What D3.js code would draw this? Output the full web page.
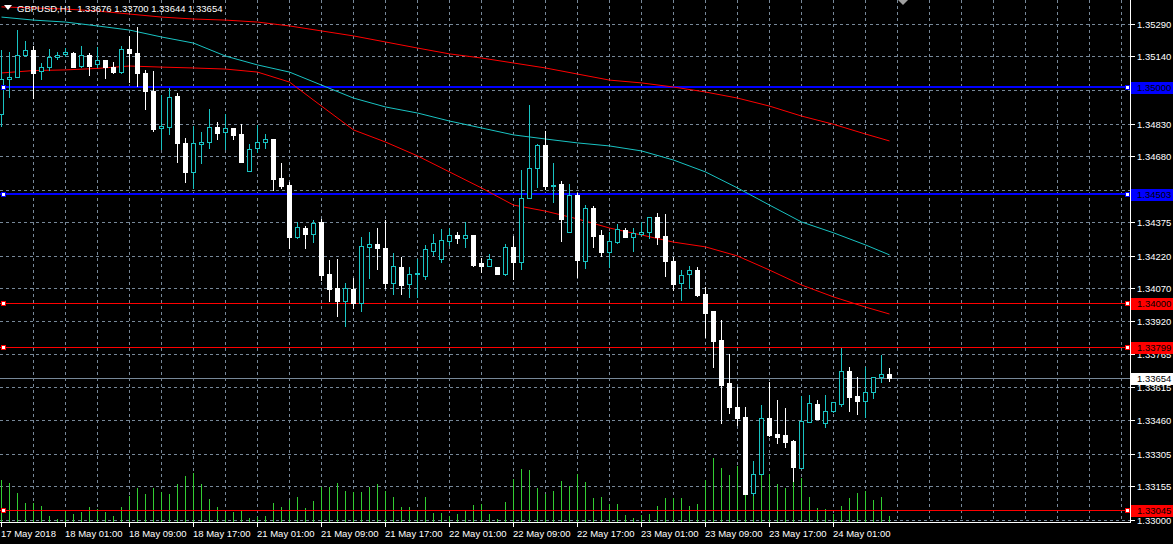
<!DOCTYPE html>
<html><head><meta charset="utf-8">
<script src="https://cdn.jsdelivr.net/npm/d3@7"></script>
<style>html,body{margin:0;padding:0;background:#000;overflow:hidden}svg{display:block}</style>
</head><body>
<svg id="chart" width="1173" height="544"></svg>
<script>
const symbolTitle = "GBPUSD,H1  1.33676 1.33700 1.33644 1.33654";
const open = [
1.34875,1.35035,1.35047,1.35147,1.35170,1.35074,1.35090,1.35136,1.35150,1.35156,
1.35098,1.35147,1.35104,1.35124,1.35093,1.35070,1.35175,1.35155,1.35062,1.34982,
1.34808,1.34816,1.34958,1.34742,1.34608,1.34737,1.34744,1.34813,1.34790,1.34811,
1.34782,1.34611,1.34716,1.34744,1.34759,1.34578,1.34547,1.34308,1.34347,1.34319,
1.34374,1.34136,1.34070,1.34012,1.34067,1.34003,1.34262,1.34274,1.34257,1.34096,
1.34170,1.34088,1.34134,1.34128,1.34243,1.34204,1.34290,1.34316,1.34303,1.34316,
1.34188,1.34174,1.34167,1.34136,1.34259,1.34193,1.34485,1.34624,1.34731,1.34543,
1.34550,1.34328,1.34500,1.34197,1.34442,1.34316,1.34239,1.34285,1.34339,1.34308,
1.34320,1.34331,1.34401,1.34311,1.34196,1.34093,1.34134,1.34154,1.34043,1.33965,
1.33831,1.33634,1.33523,1.33474,1.33123,1.33211,1.33470,1.33397,1.33392,1.33365,
1.33241,1.33451,1.33535,1.33446,1.33501,1.33534,1.33689,1.33572,1.33551,1.33590,
1.33662,1.33676];
const high = [
1.35170,1.35162,1.35262,1.35212,1.35188,1.35111,1.35176,1.35161,1.35181,1.35161,
1.35188,1.35155,1.35182,1.35124,1.35116,1.35188,1.35235,1.35278,1.35078,1.35073,
1.34962,1.34993,1.34970,1.34765,1.34819,1.34791,1.34898,1.34836,1.34874,1.34811,
1.34828,1.34735,1.34824,1.34781,1.34759,1.34647,1.34562,1.34377,1.34357,1.34385,
1.34390,1.34200,1.34205,1.34093,1.34119,1.34308,1.34328,1.34350,1.34385,1.34231,
1.34216,1.34170,1.34204,1.34270,1.34320,1.34343,1.34347,1.34328,1.34374,1.34316,
1.34208,1.34227,1.34167,1.34274,1.34312,1.34616,1.34916,1.34736,1.34796,1.34650,
1.34565,1.34551,1.34511,1.34454,1.34450,1.34339,1.34331,1.34367,1.34350,1.34347,
1.34374,1.34401,1.34419,1.34413,1.34213,1.34154,1.34173,1.34167,1.34074,1.33965,
1.33923,1.33766,1.33612,1.33520,1.33272,1.33531,1.33639,1.33554,1.33518,1.33369,
1.33572,1.33577,1.33554,1.33577,1.33543,1.33795,1.33705,1.33659,1.33708,1.33662,
1.33762,1.33700];
const low = [
1.34819,1.34954,1.35045,1.35142,1.34948,1.35036,1.35078,1.35127,1.35144,1.35093,
1.35093,1.35054,1.35090,1.35042,1.35062,1.35062,1.35024,1.35005,1.34898,1.34796,
1.34713,1.34782,1.34654,1.34562,1.34531,1.34650,1.34719,1.34759,1.34713,1.34758,
1.34654,1.34611,1.34698,1.34719,1.34524,1.34531,1.34254,1.34303,1.34257,1.34285,
1.34108,1.34011,1.33943,1.33897,1.33977,1.33966,1.34119,1.34159,1.34070,1.34043,
1.34043,1.34031,1.34031,1.34113,1.34224,1.34193,1.34270,1.34280,1.34262,1.34174,
1.34146,1.34174,1.34134,1.34131,1.34113,1.34159,1.34485,1.34539,1.34528,1.34470,
1.34290,1.34328,1.34120,1.34165,1.34262,1.34219,1.34170,1.34278,1.34308,1.34242,
1.34316,1.34301,1.34273,1.34126,1.34062,1.34015,1.34070,1.34034,1.33845,1.33708,
1.33449,1.33493,1.33439,1.33120,1.33115,1.33211,1.33388,1.33354,1.33338,1.33179,
1.33241,1.33451,1.33466,1.33431,1.33497,1.33528,1.33505,1.33489,1.33477,1.33562,
1.33639,1.33644];
const close = [
1.35036,1.35047,1.35147,1.35170,1.35062,1.35090,1.35136,1.35147,1.35159,1.35093,
1.35147,1.35098,1.35122,1.35093,1.35070,1.35173,1.35155,1.35062,1.34982,1.34805,
1.34820,1.34952,1.34742,1.34608,1.34742,1.34744,1.34813,1.34788,1.34808,1.34778,
1.34654,1.34712,1.34744,1.34758,1.34574,1.34543,1.34308,1.34351,1.34319,1.34370,
1.34131,1.34067,1.34011,1.34070,1.34001,1.34265,1.34274,1.34257,1.34096,1.34173,
1.34085,1.34136,1.34139,1.34251,1.34278,1.34293,1.34316,1.34303,1.34316,1.34177,
1.34174,1.34204,1.34134,1.34259,1.34193,1.34485,1.34624,1.34731,1.34543,1.34547,
1.34390,1.34500,1.34200,1.34439,1.34312,1.34239,1.34288,1.34342,1.34308,1.34323,
1.34331,1.34401,1.34308,1.34197,1.34090,1.34131,1.34154,1.34039,1.33957,1.33826,
1.33623,1.33523,1.33472,1.33120,1.33212,1.33470,1.33392,1.33385,1.33362,1.33246,
1.33457,1.33539,1.33466,1.33501,1.33543,1.33689,1.33569,1.33551,1.33590,1.33662,
1.33673,1.33654];
const volume = [
2050,1900,1400,900,900,750,250,100,550,350,
450,700,600,450,250,700,1250,1650,1350,1650,
1450,1350,1850,2250,2400,1850,1100,700,450,450,
550,150,200,250,900,700,1050,1200,650,1000,
1700,1700,1900,1500,1450,1450,1700,1850,1500,1200,
700,700,550,1200,400,400,250,350,550,800,
850,350,100,950,2100,2600,2550,1650,1350,1500,
2000,1750,2350,1950,1150,1200,850,850,300,150,
300,350,750,1150,1150,1150,750,850,2050,3150,
2650,2300,2750,2150,2950,2600,2350,1850,1650,2000,
2150,1200,650,600,350,750,1150,1400,1500,1050,
1200,250];
const maIndex = [0,4,8,12,16,20,24,28,32,36,40,44,48,52,56,60,64,68,72,76,80,84,88,92,96,100,104,108,111];
const maCyan = [1.35322,1.35308,1.35299,1.35281,1.35262,1.35230,1.35202,1.35142,1.35101,1.35068,1.35008,1.34948,1.34907,1.34879,1.34842,1.34810,1.34778,1.34759,1.34741,1.34727,1.34704,1.34662,1.34607,1.34533,1.34454,1.34376,1.34326,1.34270,1.34224];
const maSlowRed = [1.35369,1.35364,1.35359,1.35350,1.35336,1.35322,1.35313,1.35308,1.35299,1.35281,1.35258,1.35235,1.35207,1.35179,1.35152,1.35133,1.35110,1.35087,1.35059,1.35031,1.35018,1.34999,1.34976,1.34948,1.34911,1.34865,1.34827,1.34782,1.34750];
const maFastRed = [1.35064,1.35075,1.35078,1.35085,1.35096,1.35091,1.35087,1.35082,1.35068,1.35022,1.34911,1.34801,1.34745,1.34681,1.34607,1.34533,1.34454,1.34426,1.34390,1.34348,1.34316,1.34283,1.34261,1.34219,1.34154,1.34085,1.34030,1.33983,1.33951];
const gridPrices = ["1.35290","1.35140","1.34985","1.34830","1.34680","1.34525","1.34375","1.34220","1.34070","1.33920","1.33765","1.33615","1.33460","1.33305","1.33155","1.33000"];
const priceLabels = ["1.35290","1.35140","1.34830","1.34680","1.34375","1.34220","1.34070","1.33920","1.33765","1.33615","1.33460","1.33305","1.33155","1.33000"];
const timeTickIndex = [0,8,16,24,32,40,48,56,64,72,80,88,96,104];
const timeLabels = ["17 May 2018","18 May 01:00","18 May 09:00","18 May 17:00","21 May 01:00","21 May 09:00","21 May 17:00","22 May 01:00","22 May 09:00","22 May 17:00","23 May 01:00","23 May 09:00","23 May 17:00","24 May 01:00"];
const blueLevels = [1.35000, 1.34503];
const redLevels = [1.34000, 1.33799, 1.33045];
const bidPrice = 1.33654;

const W = 1173, H = 544, plotR = 1130, plotB = 522;
const FONT = "'Liberation Sans', Arial, sans-serif";
const BULL = "#19c3c3", BEAR = "#ffffff", GRID = "#778899", VOL = "#32cd32";

const svg = d3.select("#chart");
svg.append("rect").attr("width",W).attr("height",H).attr("fill","#000");
const x = d3.scaleLinear().domain([0,111]).range([1,889]);
const y = d3.scaleLinear().domain([1.33000,1.35290]).range([520,24]);
const v = d3.scaleLinear().domain([0,5000]).range([521,421]);

svg.append("clipPath").attr("id","clip").append("rect").attr("x",0).attr("y",0).attr("width",plotR).attr("height",plotB);
const plot = svg.append("g").attr("clip-path","url(#clip)");

// grid
const gridV = d3.range(4,144,4);
plot.append("g").selectAll("line").data(gridV).join("line")
  .attr("x1",d=>x(d)+0.5).attr("x2",d=>x(d)+0.5).attr("y1",0).attr("y2",plotB)
  .attr("stroke",GRID).attr("stroke-dasharray","3,3");
plot.append("g").selectAll("line").data(gridPrices).join("line")
  .attr("x1",0).attr("x2",plotR).attr("y1",d=>Math.round(y(+d))+0.5).attr("y2",d=>Math.round(y(+d))+0.5)
  .attr("stroke",GRID).attr("stroke-dasharray","3,3");

// volumes
const bars = d3.range(open.length).map(i=>({i,o:open[i],h:high[i],l:low[i],c:close[i],vol:volume[i]}));
plot.append("g").selectAll("line").data(bars).join("line")
  .attr("x1",d=>x(d.i)+0.5).attr("x2",d=>x(d.i)+0.5)
  .attr("y1",d=>Math.round(v(d.vol))).attr("y2",plotB)
  .attr("stroke",VOL);

// horizontal levels
function level(p,color,w){
  const yy = Math.round(y(p)) + (w===2?0:0.5);
  plot.append("line").attr("x1",0).attr("x2",plotR).attr("y1",yy).attr("y2",yy).attr("stroke",color).attr("stroke-width",w);
}
blueLevels.forEach(p=>level(p,"#0000ff",2));
redLevels.forEach(p=>level(p,"#ff0000",1));
level(bidPrice,GRID,1);

// moving averages
const maLine = arr => d3.line().x((d,k)=>x(maIndex[k])+0.5).y(d=>y(d))(arr);
plot.append("path").attr("d",maLine(maSlowRed)).attr("fill","none").attr("stroke","#ff0000");
plot.append("path").attr("d",maLine(maFastRed)).attr("fill","none").attr("stroke","#ff0000");
plot.append("path").attr("d",maLine(maCyan)).attr("fill","none").attr("stroke",BULL);

// candles
const cg = plot.append("g");
cg.selectAll("line").data(bars).join("line")
  .attr("x1",d=>x(d.i)+0.5).attr("x2",d=>x(d.i)+0.5)
  .attr("y1",d=>Math.round(y(d.h))).attr("y2",d=>Math.round(y(d.l))+1)
  .attr("stroke",d=>d.c>=d.o?BULL:BEAR);
bars.forEach(d=>{
  const cx = x(d.i);
  const top = Math.round(y(Math.max(d.o,d.c))), bot = Math.round(y(Math.min(d.o,d.c)));
  if (d.c > d.o) {
    cg.append("rect").attr("x",cx-1.5).attr("y",top+0.5).attr("width",4).attr("height",Math.max(bot-top,0.01))
      .attr("fill","#000").attr("stroke",BULL);
  } else if (d.c < d.o) {
    cg.append("rect").attr("x",cx-2).attr("y",top).attr("width",5).attr("height",Math.max(bot-top+1,1)).attr("fill",BEAR);
  } else {
    cg.append("line").attr("x1",cx-2).attr("x2",cx+3).attr("y1",top+0.5).attr("y2",top+0.5).attr("stroke",BULL);
  }
});

// level markers
function marker(p,color){
  const yy = Math.round(y(p));
  [1,1125].forEach(mx=>{
    svg.append("rect").attr("x",mx+0.5).attr("y",yy-1.5).attr("width",4).attr("height",4)
      .attr("fill","#fff").attr("stroke",color);
  });
}
blueLevels.forEach(p=>marker(p,"#0000ff"));
redLevels.forEach(p=>marker(p,"#ff0000"));

// borders
svg.append("line").attr("x1",plotR+0.5).attr("x2",plotR+0.5).attr("y1",0).attr("y2",plotB+1).attr("stroke","#fff");
svg.append("line").attr("x1",0).attr("x2",plotR+1).attr("y1",plotB+0.5).attr("y2",plotB+0.5).attr("stroke","#fff");

// price axis
const pa = svg.append("g");
gridPrices.forEach(t=>{
  const yy = Math.round(y(+t));
  pa.append("line").attr("x1",plotR+1).attr("x2",plotR+5).attr("y1",yy+0.5).attr("y2",yy+0.5).attr("stroke","#fff");
});
priceLabels.forEach(t=>{
  const yy = Math.round(y(+t));
  pa.append("text").attr("x",1137).attr("y",yy+4).attr("fill","#fff").attr("font-family",FONT).attr("font-size","9.5px").text(t);
});
function priceBox(p,bg,fg){
  const yy = Math.round(y(p));
  pa.append("rect").attr("x",plotR+1).attr("y",yy-5).attr("width",W-plotR-1).attr("height",12).attr("fill",bg);
  pa.append("text").attr("x",1137).attr("y",yy+4).attr("fill",fg).attr("font-family",FONT).attr("font-size","9.5px").text(p.toFixed(5));
}
blueLevels.forEach(p=>priceBox(p,"#0000ff","#000"));
redLevels.forEach(p=>priceBox(p,"#ff0000","#000"));
priceBox(bidPrice,"#ffffff","#000");

// time axis
const ta = svg.append("g");
timeTickIndex.forEach((ti,k)=>{
  const xx = x(ti);
  ta.append("line").attr("x1",xx+0.5).attr("x2",xx+0.5).attr("y1",plotB+1).attr("y2",plotB+5).attr("stroke","#fff");
  ta.append("text").attr("x",xx).attr("y",537).attr("fill","#fff").attr("font-family",FONT).attr("font-size","9.5px").text(timeLabels[k]);
});

// header
svg.append("path").attr("d","M4,5 L12,5 L8,10 Z").attr("fill","#fff");
svg.append("text").attr("x",17).attr("y",12).attr("fill","#fff").attr("font-family",FONT).attr("font-size","9.5px")
  .attr("xml:space","preserve").style("white-space","pre").text(symbolTitle);
// chart shift marker
svg.append("path").attr("d","M898,0 L908,0 L903,5 Z").attr("fill","#a0a0a0");
</script>
</body></html>
